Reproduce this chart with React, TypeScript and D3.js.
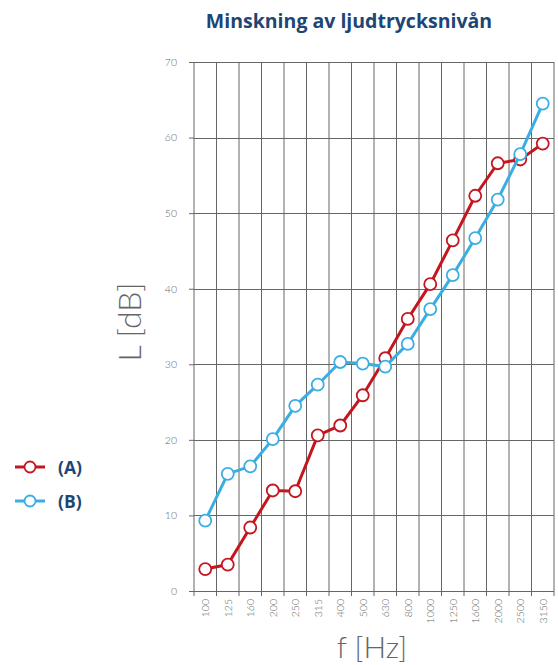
import * as d3 from 'd3';
import { useEffect, useRef } from 'react';

const frequencies = ['100', '125', '160', '200', '250', '315', '400', '500', '630', '800', '1000', '1250', '1600', '2000', '2500', '3150'];
const seriesA = [2.9, 3.5, 8.4, 13.3, 13.2, 20.6, 21.9, 25.9, 30.8, 36.0, 40.6, 46.4, 52.3, 56.6, 57.1, 59.2];
const seriesB = [9.3, 15.5, 16.5, 20.1, 24.5, 27.3, 30.3, 30.1, 29.7, 32.7, 37.3, 41.8, 46.7, 51.8, 57.8, 64.5];
const yTicks = [0, 10, 20, 30, 40, 50, 60, 70];
const legendLabels = ['(A)', '(B)'];

const RED = '#c3161f';
const BLUE = '#3aaee2';
const NAVY = '#1d4674';
const GRID = '#666666';
const TEXT = '#666666';

export default function App() {
    const svgRef = useRef<SVGSVGElement>(null);

    useEffect(() => {
        if (!svgRef.current) return;

        const width = 558;
        const height = 665;
        const plot = { left: 194, right: 554, top: 62, bottom: 591 };

        const svg = d3.select(svgRef.current).attr('width', width).attr('height', height);
        svg.selectAll('*').remove();

        const x = d3.scaleBand<string>().domain(frequencies).range([plot.left, plot.right]).padding(0);
        const y = d3.scaleLinear().domain([0, 70]).range([plot.bottom, plot.top]);
        const cx = (f: string) => x(f)! + x.bandwidth() / 2;

        // title
        svg.append('text')
            .attr('x', 349)
            .attr('y', 28)
            .attr('text-anchor', 'middle')
            .attr('font-family', '"Open Sans", sans-serif')
            .attr('font-weight', 700)
            .attr('font-size', 19.5)
            .attr('fill', NAVY)
            .text('Minskning av ljudtrycksnivån');

        // horizontal grid + y ticks
        const yAxis = svg
            .append('g')
            .attr('transform', `translate(${plot.left},0)`)
            .call(d3.axisLeft(y).tickValues(yTicks).tickSize(5).tickPadding(12).tickFormat(d3.format('d')));
        yAxis.select('.domain').remove();
        yAxis.selectAll('.tick line').attr('stroke', GRID);
        yAxis.selectAll('text').attr('fill', TEXT).attr('font-size', 10.5).attr('font-family', 'Lato, sans-serif').attr('font-weight', 300);

        svg.append('g')
            .selectAll('line')
            .data(yTicks)
            .join('line')
            .attr('x1', plot.left)
            .attr('x2', plot.right)
            .attr('y1', (d) => Math.round(y(d)) + 0.5)
            .attr('y2', (d) => Math.round(y(d)) + 0.5)
            .attr('stroke', GRID)
            .attr('stroke-width', 1);

        // vertical grid at band edges, with ticks below
        const edges = frequencies.map((f) => x(f)!).concat([plot.right]);
        svg.append('g')
            .selectAll('line')
            .data(edges)
            .join('line')
            .attr('x1', (d) => d)
            .attr('x2', (d) => d)
            .attr('y1', plot.top)
            .attr('y2', plot.bottom + 5)
            .attr('stroke', GRID)
            .attr('stroke-width', 1);

        // x labels, rotated
        svg.append('g')
            .selectAll('text')
            .data(frequencies)
            .join('text')
            .attr('transform', (d) => `translate(${cx(d)},${plot.bottom + 8}) rotate(-90)`)
            .attr('text-anchor', 'end')
            .attr('dominant-baseline', 'central')
            .attr('fill', TEXT)
            .attr('font-size', 10.5)
            .attr('font-family', 'Lato, sans-serif')
            .attr('font-weight', 300)
            .text((d) => d);

        // axis titles
        svg.append('text')
            .attr('transform', `translate(141,322) rotate(-90)`)
            .attr('text-anchor', 'middle')
            .attr('fill', TEXT)
            .attr('font-size', 32)
            .attr('font-family', 'Lato, sans-serif')
            .attr('font-weight', 300)
            .text('L [dB]');

        svg.append('text')
            .attr('x', 372)
            .attr('y', 658)
            .attr('text-anchor', 'middle')
            .attr('fill', TEXT)
            .attr('font-size', 30)
            .attr('font-family', 'Lato, sans-serif')
            .attr('font-weight', 300)
            .text('f [Hz]');

        const line = d3
            .line<number>()
            .x((_, i) => cx(frequencies[i]))
            .y((d) => y(d));

        const drawSeries = (values: number[], color: string) => {
            svg.append('path').datum(values).attr('d', line).attr('fill', 'none').attr('stroke', color).attr('stroke-width', 3);
            svg.append('g')
                .selectAll('circle')
                .data(values)
                .join('circle')
                .attr('cx', (_, i) => cx(frequencies[i]))
                .attr('cy', (d) => y(d))
                .attr('r', 6)
                .attr('fill', '#fff')
                .attr('stroke', color)
                .attr('stroke-width', 1.8);
        };

        drawSeries(seriesA, RED);
        drawSeries(seriesB, BLUE);

        // legend
        const legend = svg.append('g');
        [RED, BLUE].forEach((color, i) => {
            const ly = 467 + i * 34;
            legend.append('line').attr('x1', 15).attr('x2', 45).attr('y1', ly).attr('y2', ly).attr('stroke', color).attr('stroke-width', 3);
            legend.append('circle').attr('cx', 30).attr('cy', ly).attr('r', 5.5).attr('fill', '#fff').attr('stroke', color).attr('stroke-width', 1.8);
            legend
                .append('text')
                .attr('x', 58)
                .attr('y', ly)
                .attr('dominant-baseline', 'central')
                .attr('fill', NAVY)
                .attr('font-size', 17.5)
                .attr('font-family', '"Open Sans", sans-serif')
                .attr('font-weight', 700)
                .text(legendLabels[i]);
        });
    }, []);

    return <svg ref={svgRef} style={{ position: 'absolute', left: 0, top: 0 }} />;
}
